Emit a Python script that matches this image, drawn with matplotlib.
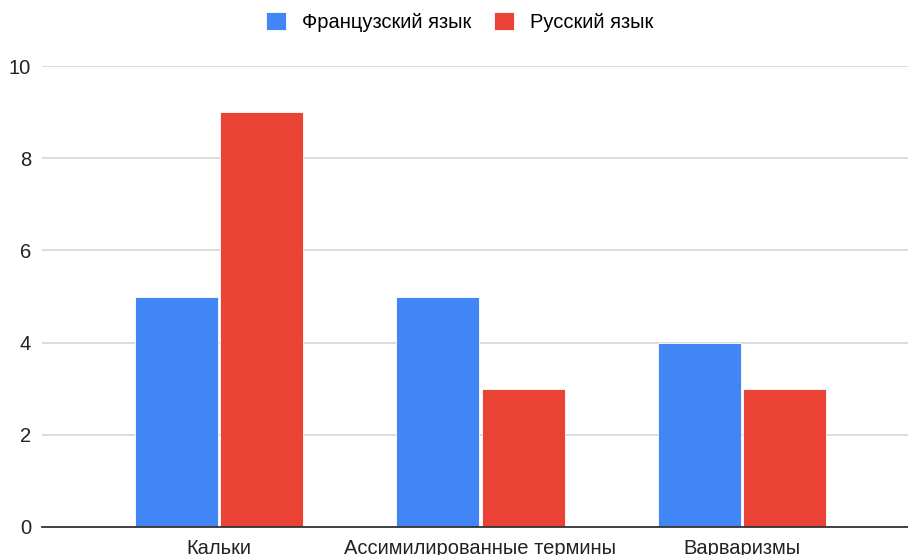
import numpy as np
import matplotlib.pyplot as plt

categories = ['Кальки', 'Ассимилированные термины', 'Варваризмы']
french = [5, 5, 4]
russian = [9, 3, 3]
series_names = ['Французский язык', 'Русский язык']

plt.rcParams['font.family'] = ['Liberation Sans', 'DejaVu Sans']

fig = plt.figure(figsize=(9.08, 5.55), dpi=100)
ax = fig.add_axes([42 / 908, 28 / 555, 1 - 42 / 908, (527 - 66) / 555])

x = np.arange(len(categories))
w = 0.318
off = 0.163
ax.bar(x - off, french, w, color='#4285F4', label=series_names[0], zorder=3,
       edgecolor='white', linewidth=0.6)
ax.bar(x + off, russian, w, color='#EA4335', label=series_names[1], zorder=3,
       edgecolor='white', linewidth=0.6)

ax.set_xlim(-0.677, 2.635)
ax.set_ylim(0, 10)
ax.set_yticks([0, 2, 4, 6, 8, 10])
ax.set_xticks(x)
ax.set_xticklabels(categories)
ax.tick_params(axis='both', length=0, labelsize=14.5, colors='#222222')
ax.tick_params(axis='y', pad=8)
ax.tick_params(axis='x', pad=9)

ax.yaxis.grid(True, color='#d6d6d6', linewidth=1.2, zorder=0)
for s in ['top', 'right', 'left']:
    ax.spines[s].set_visible(False)
ax.spines['bottom'].set_color('#333333')
ax.spines['bottom'].set_linewidth(1.3)
ax.spines['bottom'].set_zorder(4)

fig.legend(loc='center', bbox_to_anchor=(0.506, 1 - 22 / 555), ncol=2, frameon=False,
           fontsize=14.5, handlelength=1.0, handleheight=1.0, columnspacing=1.1,
           handletextpad=0.8, borderpad=0)

fig.savefig('out.png', dpi=100)
